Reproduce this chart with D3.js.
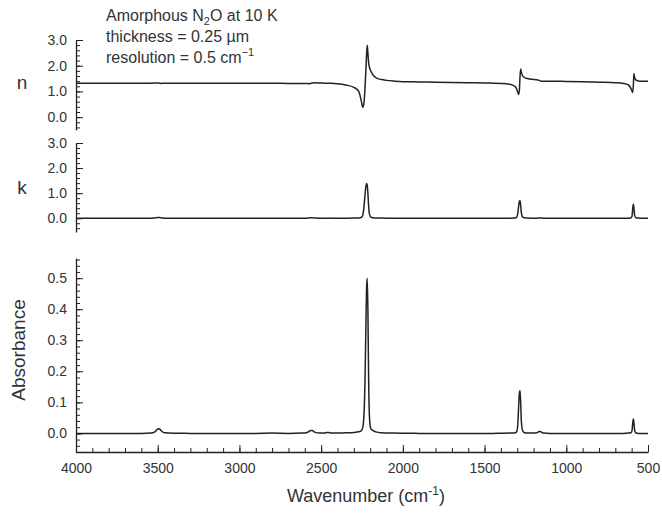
<!DOCTYPE html>
<html>
<head>
<meta charset="utf-8">
<script src="https://cdn.jsdelivr.net/npm/d3@7"></script>
<style>
  html, body { margin: 0; padding: 0; background: #fff; }
  svg text { font-family: Arial, 'Liberation Sans', sans-serif; fill: #333; }
</style>
</head>
<body>
<div id="chart-container"></div>
<script>
// ==== data ====
const wavenumber = [
  4000, 3900, 3800, 3700, 3600, 3540, 3520, 3510, 3500, 3490, 3480, 3460,
  3400, 3300, 3200, 3100, 3000, 2900, 2800, 2700, 2620, 2590, 2575, 2565,
  2555, 2540, 2510, 2480, 2465, 2455, 2440, 2400, 2350, 2300, 2270, 2255,
  2245, 2238, 2232, 2226, 2222, 2218, 2214, 2210, 2205, 2198, 2190, 2180,
  2160, 2130, 2100, 2050, 2000, 1900, 1800, 1700, 1600, 1500, 1450, 1400,
  1350, 1320, 1305, 1298, 1292, 1287, 1283, 1279, 1275, 1268, 1258, 1240,
  1210, 1180, 1170, 1160, 1140, 1100, 1000, 900, 800, 700, 650, 620,
  605, 598, 594, 590, 586, 582, 575, 560, 540, 520, 500
]
const nValues = [
  1.32, 1.32, 1.32, 1.32, 1.32, 1.32, 1.325, 1.33, 1.33, 1.32, 1.31, 1.32,
  1.32, 1.32, 1.32, 1.32, 1.32, 1.32, 1.32, 1.31, 1.31, 1.31, 1.30, 1.31,
  1.33, 1.335, 1.33, 1.32, 1.32, 1.32, 1.32, 1.30, 1.25, 1.16, 1.0, 0.65,
  0.38, 0.55, 1.1, 1.85, 2.45, 2.8, 2.5, 2.15, 1.95, 1.82, 1.72, 1.62,
  1.52, 1.46, 1.43, 1.4, 1.38, 1.37, 1.36, 1.35, 1.34, 1.33, 1.32, 1.31,
  1.28, 1.22, 1.12, 0.98, 0.88, 1.05, 1.6, 1.87, 1.75, 1.62, 1.55, 1.5,
  1.47, 1.45, 1.44, 1.41, 1.4, 1.4, 1.39, 1.38, 1.36, 1.34, 1.31, 1.25,
  1.12, 1.02, 0.96, 1.2, 1.7, 1.55, 1.45, 1.41, 1.4, 1.4, 1.4
]
const kValues = [
  0, 0, 0, 0, 0, 0.002, 0.008, 0.02, 0.03, 0.03, 0.015, 0.003,
  0, 0, 0, 0, 0, 0, 0.002, 0, 0, 0.003, 0.01, 0.02,
  0.02, 0.008, 0.002, 0.001, 0.003, 0.004, 0.002, 0.001, 0.002, 0.004, 0.01, 0.03,
  0.12, 0.45, 0.9, 1.28, 1.38, 1.32, 1.0, 0.55, 0.18, 0.06, 0.03, 0.02,
  0.01, 0.005, 0.003, 0.001, 0, 0, 0, 0, 0, 0, 0, 0,
  0.002, 0.005, 0.03, 0.15, 0.45, 0.68, 0.7, 0.5, 0.22, 0.06, 0.02, 0.008,
  0.003, 0.003, 0.01, 0.012, 0.003, 0, 0, 0, 0, 0, 0.001, 0.003,
  0.01, 0.08, 0.35, 0.56, 0.4, 0.12, 0.02, 0.005, 0, 0, 0
]
const absValues = [
  0, 0, 0, 0, 0, 0.001, 0.004, 0.009, 0.014, 0.015, 0.009, 0.002,
  0.0005, 0, 0, 0, 0, 0, 0.001, 0, 0.001, 0.002, 0.006, 0.009,
  0.009, 0.004, 0.001, 0.001, 0.003, 0.003, 0.001, 0.001, 0.002, 0.003, 0.005, 0.008,
  0.02, 0.06, 0.16, 0.35, 0.47, 0.5, 0.4, 0.2, 0.06, 0.018, 0.012, 0.008,
  0.004, 0.002, 0.001, 0.001, 0.0005, 0, 0, 0, 0, 0, 0, 0.0005,
  0.001, 0.001, 0.004, 0.02, 0.08, 0.13, 0.137, 0.1, 0.04, 0.01, 0.003, 0.001,
  0.001, 0.002, 0.005, 0.006, 0.001, 0, 0, 0, 0, 0, 0, 0.001,
  0.002, 0.008, 0.03, 0.046, 0.035, 0.01, 0.002, 0, 0, 0, 0
]
const xTickValues = [4000, 3500, 3000, 2500, 2000, 1500, 1000, 500]
const nkTickValues = [0, 1, 2, 3]
const absTickValues = [0, 0.1, 0.2, 0.3, 0.4, 0.5]

// ==== layout ====
const W = 662
const H = 514
const X0 = 76
const X1 = 648
const LINE_COLOR = '#222'

const svg = d3.select('#chart-container')
  .append('svg')
  .attr('width', W)
  .attr('height', H)

const x = d3.scaleLinear().domain([4000, 500]).range([X0, X1])

// one panel per quantity: n, k, absorbance
const panels = [
  { label: 'n', values: nValues, domain: [-0.5, 3.0], range: [130, 40],
    ticks: nkTickValues, minorStep: 0.2 },
  { label: 'k', values: kValues, domain: [-0.55, 3.0], range: [232, 143],
    ticks: nkTickValues, minorStep: 0.2 },
  { label: 'Absorbance', values: absValues, domain: [-0.06, 0.565], range: [452, 258],
    ticks: absTickValues, minorStep: 0.02 }
]

panels.forEach((p) => {
  const y = d3.scaleLinear().domain(p.domain).range(p.range)
  const g = svg.append('g')

  // minor ticks (inside, no labels)
  const minor = d3.range(Math.ceil(p.domain[0] / p.minorStep), Math.floor(p.domain[1] / p.minorStep + 1e-6) + 1)
    .map((i) => +(i * p.minorStep).toFixed(3))
  g.append('g')
    .attr('transform', `translate(${X0},0)`)
    .call(d3.axisLeft(y).tickValues(minor).tickSizeInner(-4).tickSizeOuter(0).tickFormat(''))
    .call((a) => a.select('.domain').remove())
    .selectAll('line').attr('stroke', LINE_COLOR)

  // major ticks + labels
  const ax = g.append('g')
    .attr('transform', `translate(${X0},0)`)
    .call(d3.axisLeft(y).tickValues(p.ticks).tickSizeInner(-7).tickSizeOuter(0)
      .tickPadding(9).tickFormat(d3.format('.1f')))
  ax.select('.domain').attr('stroke', LINE_COLOR).attr('stroke-width', 1.3)
  ax.selectAll('line').attr('stroke', LINE_COLOR)
  ax.selectAll('text').attr('font-size', 14).attr('fill', '#333')
    .style('font-family', 'Arial, "Liberation Sans", sans-serif')

  // curve
  const line = d3.line()
    .x((d, i) => x(wavenumber[i]))
    .y((d) => y(d))
    .curve(d3.curveMonotoneX)
  g.append('path')
    .datum(p.values)
    .attr('fill', 'none')
    .attr('stroke', LINE_COLOR)
    .attr('stroke-width', 1.5)
    .attr('stroke-linejoin', 'round')
    .attr('d', line)
})

// panel labels
svg.append('text').attr('x', 22).attr('y', 89).attr('text-anchor', 'middle')
  .attr('font-size', 19).text('n')
svg.append('text').attr('x', 22).attr('y', 194).attr('text-anchor', 'middle')
  .attr('font-size', 19).text('k')
svg.append('text')
  .attr('transform', 'translate(25,350) rotate(-90)')
  .attr('text-anchor', 'middle')
  .attr('font-size', 19)
  .text('Absorbance')

// ==== bottom x axis ====
const xg = svg.append('g').attr('transform', 'translate(0,452)')
xg.append('g')
  .call(d3.axisBottom(x).tickValues(d3.range(4000, 499, -100)).tickSizeInner(-4).tickSizeOuter(0).tickFormat(''))
  .call((a) => a.select('.domain').remove())
  .selectAll('line').attr('stroke', LINE_COLOR)
const xa = xg.append('g')
  .call(d3.axisBottom(x).tickValues(xTickValues).tickSizeInner(-7).tickSizeOuter(0)
    .tickPadding(11).tickFormat(d3.format('d')))
xa.select('.domain').attr('stroke', LINE_COLOR).attr('stroke-width', 1.3)
xa.selectAll('line').attr('stroke', LINE_COLOR)
xa.selectAll('text').attr('font-size', 14).attr('fill', '#333')
  .style('font-family', 'Arial, "Liberation Sans", sans-serif')

const xTitle = svg.append('text').attr('x', 366).attr('y', 502)
  .attr('text-anchor', 'middle').attr('font-size', 18)
xTitle.append('tspan').text('Wavenumber (cm')
xTitle.append('tspan').attr('dy', -7).attr('font-size', 12).text('-1')
xTitle.append('tspan').attr('dy', 7).text(')')

// ==== annotation ====
const note = svg.append('g').attr('font-size', 16)
const t1 = note.append('text').attr('x', 106).attr('y', 21)
t1.append('tspan').text('Amorphous N')
t1.append('tspan').attr('dy', 4).attr('font-size', 11).text('2')
t1.append('tspan').attr('dy', -4).text('O at 10 K')
note.append('text').attr('x', 106).attr('y', 42).text('thickness = 0.25 \u00b5m')
const t3 = note.append('text').attr('x', 106).attr('y', 62.5)
t3.append('tspan').text('resolution = 0.5 cm')
t3.append('tspan').attr('dy', -7).attr('font-size', 11).text('\u22121')
</script>
</body>
</html>
